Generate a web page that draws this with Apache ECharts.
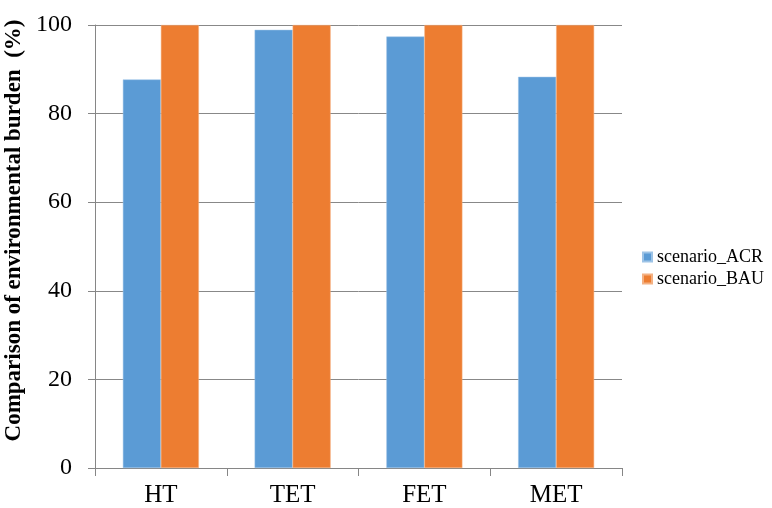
<!DOCTYPE html>
<html><head><meta charset="utf-8">
<script src="https://cdn.jsdelivr.net/npm/echarts@6/dist/echarts.min.js"></script>
<style>html,body{margin:0;padding:0;background:#fff}#c{width:772px;height:508px}</style>
</head><body><div id="c"></div>
<script>
const categories = ['HT', 'TET', 'FET', 'MET'];
const acr = [87.7, 98.9, 97.4, 88.3];
const bau = [100, 100, 100, 100];
const seriesNames = ['scenario_ACR', 'scenario_BAU'];
const font = '"Liberation Serif", "Times New Roman", serif';
const chart = echarts.init(document.getElementById('c'));
chart.setOption({
  animation: false,
  grid: {left: 95, right: 150, top: 25, bottom: 40, containLabel: false, outerBoundsMode: 'none'},
  legend: {
    orient: 'vertical', left: 637, top: 243, itemWidth: 9, itemHeight: 9, itemGap: 4,
    icon: 'rect',
    textStyle: {fontFamily: font, fontSize: 18, color: '#000'},
    data: seriesNames
  },
  xAxis: {
    type: 'category', data: categories,
    axisLine: {lineStyle: {color: '#868686'}},
    axisTick: {show: true, length: 8, lineStyle: {color: '#868686'}},
    axisLabel: {fontFamily: font, fontSize: 25, color: '#000', margin: 15}
  },
  yAxis: {
    type: 'value', min: 0, max: 100, interval: 20,
    name: 'Comparison of environmental burden  (%)', nameLocation: 'middle', nameGap: 66,
    nameTextStyle: {fontFamily: font, fontSize: 23, fontWeight: 'bold', color: '#000', padding: [0, 0, 0, 32]},
    axisLine: {show: true, lineStyle: {color: '#868686'}},
    axisTick: {show: true, length: 7, lineStyle: {color: '#868686'}},
    splitLine: {lineStyle: {color: '#888'}},
    axisLabel: {fontFamily: font, fontSize: 24, color: '#000', margin: 23}
  },
  series: [
    {name: seriesNames[0], type: 'bar', data: acr, barWidth: 38, barGap: '0%',
     itemStyle: {color: '#5b9bd5', borderColor: '#9dc3e6', borderWidth: 0.5}},
    {name: seriesNames[1], type: 'bar', data: bau, barWidth: 38,
     itemStyle: {color: '#ed7d31', borderColor: '#f4b183', borderWidth: 0.5}}
  ]
});
</script></body></html>
